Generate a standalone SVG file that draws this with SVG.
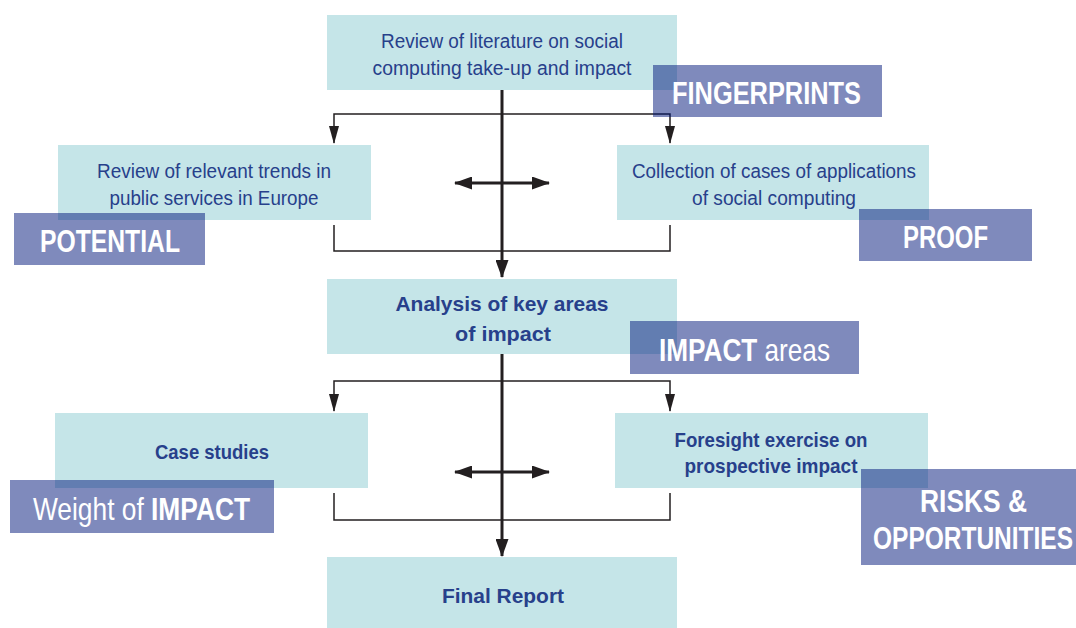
<svg xmlns="http://www.w3.org/2000/svg" width="1076" height="628" viewBox="0 0 1076 628">
<defs>
<style>
.box{fill:#c5e5e8}
.tag{fill:#00167a;fill-opacity:0.5}
.t{font-family:"Liberation Sans",Arial,sans-serif;font-size:20px;fill:#27408b;text-anchor:middle}
.tb{font-family:"Liberation Sans",Arial,sans-serif;font-size:21px;font-weight:bold;fill:#27408b;text-anchor:middle}
.lb{font-family:"Liberation Sans",Arial,sans-serif;font-size:32px;font-weight:bold;fill:#ffffff}
.lr{font-family:"Liberation Sans",Arial,sans-serif;font-size:32px;font-weight:normal;fill:#ffffff}
.bw{font-weight:bold}
.nw{font-weight:normal}
.main{stroke:#231f20;stroke-width:3;fill:none}
.br{stroke:#231f20;stroke-width:1.5;fill:none}
</style>
<marker id="ah" viewBox="0 0 18 13" refX="17" refY="6.5" markerWidth="18" markerHeight="13" markerUnits="userSpaceOnUse" orient="auto-start-reverse">
<path d="M0,0 L18,6.5 L0,13 z" fill="#231f20"/>
</marker>
<marker id="ahs" viewBox="0 0 18 10" refX="17" refY="5" markerWidth="18" markerHeight="10" markerUnits="userSpaceOnUse" orient="auto-start-reverse">
<path d="M0,0 L18,5 L0,10 z" fill="#231f20"/>
</marker>
</defs>
<rect width="1076" height="628" fill="#ffffff"/>

<g id="connectors">
<path class="main" d="M502,90 V277" marker-end="url(#ah)"/>
<path class="main" d="M502,354 V556" marker-end="url(#ah)"/>
<path class="br" d="M670,143 V114 H334 V143" marker-start="url(#ahs)" marker-end="url(#ahs)"/>
<path class="br" d="M334,225 V251 H670 V225"/>
<path class="main" d="M455,183 H549" marker-start="url(#ah)" marker-end="url(#ah)"/>
<path class="br" d="M670,411 V381 H334 V411" marker-start="url(#ahs)" marker-end="url(#ahs)"/>
<path class="br" d="M334,493 V520 H670 V493"/>
<path class="main" d="M455,472 H549" marker-start="url(#ah)" marker-end="url(#ah)"/>
</g>

<g id="n-literature">
<rect class="box" x="327" y="15" width="350" height="75"/>
<text class="t" x="502" y="48" textLength="242" lengthAdjust="spacingAndGlyphs">Review of literature on social</text>
<text class="t" x="502" y="75" textLength="259" lengthAdjust="spacingAndGlyphs">computing take-up and impact</text>
</g>

<g id="n-trends">
<rect class="box" x="58" y="145" width="313" height="75"/>
<text class="t" x="214" y="178" textLength="234" lengthAdjust="spacingAndGlyphs">Review of relevant trends in</text>
<text class="t" x="214" y="205" textLength="209" lengthAdjust="spacingAndGlyphs">public services in Europe</text>
</g>

<g id="n-cases">
<rect class="box" x="617" y="145" width="312" height="75"/>
<text class="t" x="774" y="178" textLength="284" lengthAdjust="spacingAndGlyphs">Collection of cases of applications</text>
<text class="t" x="774" y="205" textLength="164" lengthAdjust="spacingAndGlyphs">of social computing</text>
</g>

<g id="n-analysis">
<rect class="box" x="327" y="279" width="350" height="75"/>
<text class="tb" x="502" y="311" textLength="213" lengthAdjust="spacingAndGlyphs">Analysis of key areas</text>
<text class="tb" x="503" y="341" textLength="96" lengthAdjust="spacingAndGlyphs">of impact</text>
</g>

<g id="n-casestudies">
<rect class="box" x="55" y="413" width="313" height="75"/>
<text class="tb" x="212" y="459" textLength="114" lengthAdjust="spacingAndGlyphs">Case studies</text>
</g>

<g id="n-foresight">
<rect class="box" x="615" y="413" width="313" height="75"/>
<text class="tb" x="771" y="447" textLength="193" lengthAdjust="spacingAndGlyphs">Foresight exercise on</text>
<text class="tb" x="771" y="473" textLength="173" lengthAdjust="spacingAndGlyphs">prospective impact</text>
</g>

<g id="n-final">
<rect class="box" x="327" y="557" width="350" height="71"/>
<text class="tb" x="503" y="603" textLength="122" lengthAdjust="spacingAndGlyphs">Final Report</text>
</g>

<g id="tag-fingerprints">
<rect class="tag" x="653" y="65" width="229" height="52"/>
<text class="lb" x="672" y="104" textLength="189" lengthAdjust="spacingAndGlyphs">FINGERPRINTS</text>
</g>

<g id="tag-potential">
<rect class="tag" x="14" y="213" width="191" height="52"/>
<text class="lb" x="40" y="252" textLength="140" lengthAdjust="spacingAndGlyphs">POTENTIAL</text>
</g>

<g id="tag-proof">
<rect class="tag" x="859" y="209" width="173" height="52"/>
<text class="lb" x="903" y="248" textLength="85" lengthAdjust="spacingAndGlyphs">PROOF</text>
</g>

<g id="tag-impact-areas">
<rect class="tag" x="630" y="321" width="229" height="53"/>
<text class="lb" x="659" y="361" textLength="171" lengthAdjust="spacingAndGlyphs">IMPACT <tspan class="nw">areas</tspan></text>
</g>

<g id="tag-weight">
<rect class="tag" x="10" y="480" width="264" height="53"/>
<text class="lr" x="33" y="520" textLength="217" lengthAdjust="spacingAndGlyphs">Weight of <tspan class="bw">IMPACT</tspan></text>
</g>

<g id="tag-risks">
<rect class="tag" x="861" y="469" width="215" height="96"/>
<text class="lb" x="920" y="512" textLength="107" lengthAdjust="spacingAndGlyphs">RISKS &amp;</text>
<text class="lb" x="873" y="549" textLength="200" lengthAdjust="spacingAndGlyphs">OPPORTUNITIES</text>
</g>
</svg>
